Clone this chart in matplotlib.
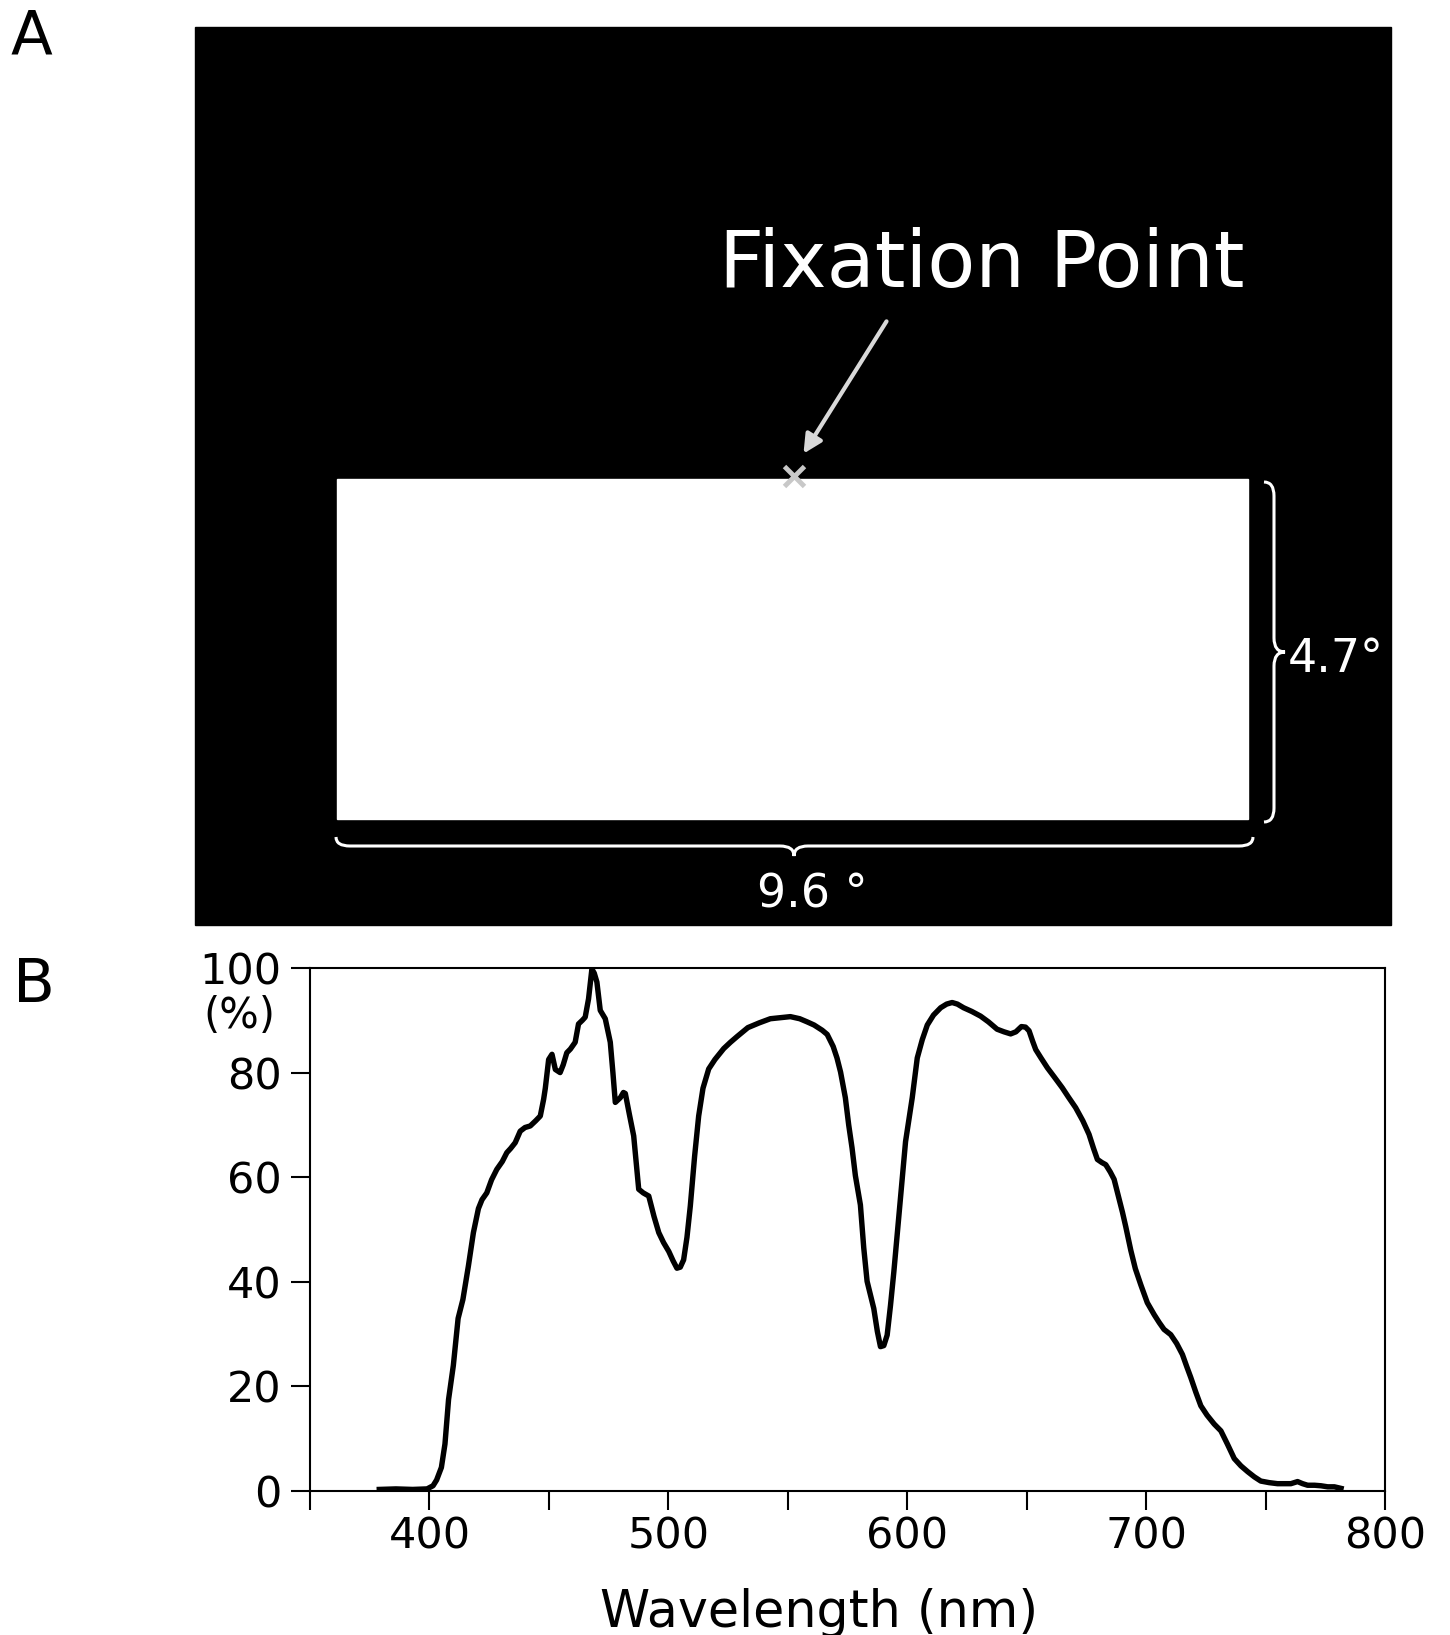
import matplotlib
matplotlib.use("Agg")
import matplotlib.pyplot as plt
from matplotlib.patches import Rectangle, PathPatch
from matplotlib.path import Path

# Transmission spectrum (panel B)
wavelength = [
    379, 386, 393, 399, 401.5, 403, 405, 406.5, 408, 410, 412, 414, 416.3, 418.4,
    420.5, 422, 424, 426, 428.2, 430.5, 432.4, 434, 435.9, 438, 440, 442.2, 444.5,
    446.4, 447.8, 448.5, 449.9, 451.3, 452.7, 454.7, 456, 457.5, 459, 461, 462.4,
    464, 465.2, 466.6, 468, 469, 470.1, 471.5, 473.6, 475.7, 476.8, 477.8, 479.9,
    481.2, 482, 483.7, 485.5, 487.6, 489.5, 491.8, 494, 496, 498, 500.2, 502,
    503.6, 505, 506.4, 507.8, 509.2, 511, 512.7, 514.5, 516.9, 519.5, 523.2, 526,
    528.8, 533.3, 538, 542.7, 547, 551.1, 555, 558.1, 561, 564.4, 566.5, 569,
    570.6, 572.1, 574.1, 575.5, 576.9, 578.3, 580.4, 581.8, 583.2, 584.6, 586,
    587.5, 588.8, 590.2, 591.6, 593, 594.4, 595.8, 597.2, 599.3, 600.7, 602.1,
    604.2, 606.3, 608.4, 611, 614, 616.5, 618.8, 621, 623.6, 627, 630.7, 634,
    637.6, 640.5, 643.3, 645.5, 647.8, 649.5, 651, 652.5, 653.8, 656, 658.7,
    661.5, 664.9, 667.5, 670.5, 673.5, 676.1, 678, 679.6, 681.5, 683.1, 685,
    686.6, 688.3, 690.1, 691.5, 693.6, 695.5, 697.8, 700.5, 703.4, 705.5, 707.5,
    710.3, 712.8, 715.2, 717, 718.7, 720.8, 722.9, 725.5, 728.5, 731.3, 734,
    736.9, 739.7, 742.5, 745.3, 748, 751.5, 755, 758, 760.6, 763.4, 765.5, 767.6,
    770.5, 773.2, 776, 778.8, 781.6,
]
transmission = [
    0.3, 0.4, 0.3, 0.4, 1.0, 2.1, 4.5, 9, 17.5, 24, 33, 36.6, 43, 49.4,
    54, 55.7, 57, 59.5, 61.5, 63, 64.7, 65.5, 66.6, 68.8, 69.5, 69.8, 70.8,
    71.7, 74.9, 77, 82.5, 83.5, 80.6, 80.0, 81.5, 83.8, 84.5, 85.8, 89.3,
    90, 90.6, 94.1, 99.8, 99, 97.3, 91.9, 90.3, 85.8, 80, 74.3, 75.2,
    76.2, 76, 72, 67.9, 57.7, 57, 56.4, 52.5, 49.4, 47.5, 45.8, 44,
    42.6, 42.8, 44.2, 48.5, 54.5, 64, 71.7, 77, 80.7, 82.5, 84.6, 85.8,
    86.9, 88.6, 89.5, 90.3, 90.5, 90.7, 90.3, 89.7, 89.1, 88.1, 87.3, 85,
    82.8, 80.1, 75.2, 70, 65.6, 60.3, 54.7, 46.5, 40.1, 37.5, 34.9,
    30.5, 27.6, 27.8, 29.8, 35.5, 41.9, 49, 55.9, 66.8, 71, 75.2,
    82.8, 86.3, 89.1, 91, 92.4, 93.1, 93.4, 93.1, 92.4, 91.7, 90.8, 89.7,
    88.3, 87.8, 87.4, 87.8, 88.8, 88.7, 88.0, 86, 84.4, 82.8, 80.9,
    79.2, 77.1, 75.3, 73.3, 70.8, 68.2, 65.5, 63.4, 62.8, 62.4, 61,
    59.6, 56.5, 53.3, 50.5, 46, 42.5, 39.4, 36, 33.7, 32.2, 30.9,
    29.9, 28.2, 26.1, 23.8, 21.7, 18.9, 16.3, 14.5, 12.8, 11.5, 9,
    6.2, 4.8, 3.7, 2.7, 1.9, 1.6, 1.4, 1.4, 1.4, 1.8, 1.4, 1.1,
    1.1, 1.0, 0.8, 0.8, 0.5,
]

x_major = [400, 500, 600, 700, 800]
x_minor = [350, 450, 550, 650, 750]
y_ticks = [0, 20, 40, 60, 80, 100]

W, H = 1450, 1635
fig = plt.figure(figsize=(W / 100, H / 100), dpi=100)

# overlay in pixel coordinates for panel A and the free text
ov = fig.add_axes([0, 0, 1, 1])
ov.set_xlim(0, W)
ov.set_ylim(H, 0)
ov.axis('off')


def brace(ax, a, b, m, base, mid, tip, vertical=False, r=14):
    pts = [(a, base), (a, mid), (a + r, mid), (m - r, mid), (m, mid), (m, tip),
           (m, mid), (m + r, mid), (b - r, mid), (b, mid), (b, base)]
    codes = [Path.MOVETO, Path.CURVE3, Path.CURVE3, Path.LINETO, Path.CURVE3,
             Path.CURVE3, Path.CURVE3, Path.CURVE3, Path.LINETO, Path.CURVE3,
             Path.CURVE3]
    if vertical:
        pts = [(p[1], p[0]) for p in pts]
    ax.add_patch(PathPatch(Path(pts, codes), fc='none', ec='white', lw=2.2))


# panel A: stimulus layout
ov.add_patch(Rectangle((195, 27), 1196, 898, color='black'))
ov.add_patch(Rectangle((337, 479), 911, 340, color='white'))
ov.plot(794, 476, marker='x', ms=15, mew=3.5, color='#c8c8c8')
ov.annotate('', xy=(802, 456), xytext=(888, 319),
            arrowprops=dict(arrowstyle='-|>', color='#d9d9d9', lw=3,
                            mutation_scale=28))
ov.text(719, 287, 'Fixation Point', color='white', fontsize=56.5,
        ha='left', va='baseline')
brace(ov, 482, 822, 652, 1264, 1274, 1285, vertical=True)
ov.text(1288, 672, '4.7°', color='white', fontsize=33, ha='left', va='baseline')
brace(ov, 336, 1253, 794, 837, 846, 856)
ov.text(812, 907, '9.6 °', color='white', fontsize=33, ha='center', va='baseline')

ov.text(11, 53, 'A', fontsize=44, ha='left', va='baseline')
ov.text(13, 1002, 'B', fontsize=44, ha='left', va='baseline')
ov.text(239, 1016, '(%)', fontsize=30, ha='center', va='center')
ov.text(819, 1627, 'Wavelength (nm)', fontsize=36.5, ha='center', va='baseline')

# panel B: spectrum
ax = fig.add_axes([310 / W, (H - 1491) / H, (1385 - 310) / W, (1491 - 968) / H])
ax.plot(wavelength, transmission, color='black', lw=3.9, solid_joinstyle='round')
ax.set_xlim(350, 800)
ax.set_ylim(0, 100)
ax.set_xticks(x_major)
ax.set_xticks(x_minor, minor=True)
ax.set_yticks(y_ticks)
ax.tick_params(which='both', direction='out', length=13.5, width=1.5)
ax.tick_params(axis='x', labelsize=31, pad=4)
ax.tick_params(axis='y', labelsize=31, pad=7)
for s in ax.spines.values():
    s.set_linewidth(1.5)

fig.savefig('out.png', dpi=100)
